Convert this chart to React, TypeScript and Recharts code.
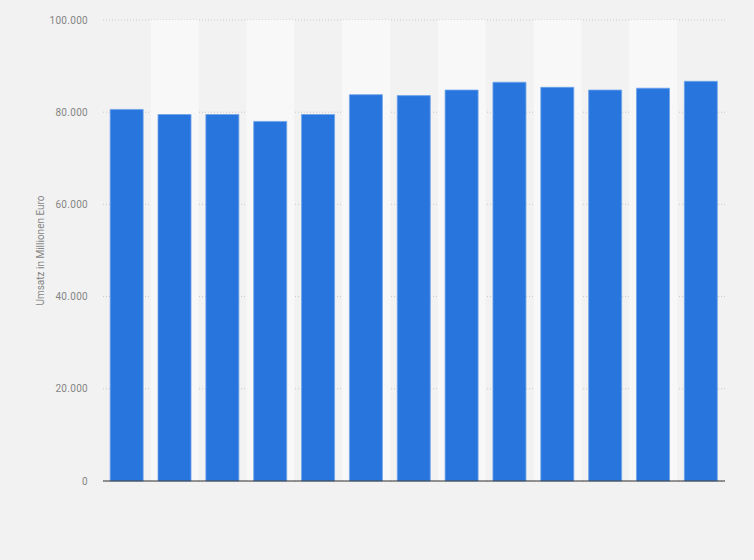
import React from 'react';
import {
  BarChart,
  Bar,
  XAxis,
  YAxis,
  CartesianGrid,
  ReferenceArea,
} from 'recharts';

// one bar per year, no labels shown on the x axis
const categories = [
  '2010', '2011', '2012', '2013', '2014', '2015', '2016',
  '2017', '2018', '2019', '2020', '2021', '2022',
];
const revenue = [
  80600, 79500, 79500, 78000, 79500, 83800, 83600,
  84800, 86500, 85400, 84800, 85200, 86700,
];
const yTicks = [0, 20000, 40000, 60000, 80000, 100000];

const data = categories.map((name, i) => ({ name, value: revenue[i] }));

const formatTick = (v: number) =>
  v.toString().replace(/\B(?=(\d{3})+(?!\d))/g, '.');

export default function App() {
  return (
    <div
      style={{
        position: 'fixed',
        left: 0,
        top: 0,
        width: 754,
        height: 560,
        background: '#f2f2f2',
        fontFamily: 'Roboto, sans-serif',
      }}
    >
      <BarChart
        width={754}
        height={560}
        data={data}
        margin={{ top: 20, right: 29, left: 0, bottom: 49 }}
        barCategoryGap="15%"
      >
        {categories.map((c, i) =>
          i % 2 === 1 ? (
            <ReferenceArea
              key={c}
              x1={c}
              x2={c}
              fill="#f8f8f8"
              fillOpacity={1}
              stroke="none"
            />
          ) : null
        )}
        <CartesianGrid
          vertical={false}
          stroke="#c8c8c8"
          strokeDasharray="1 2"
        />
        <XAxis
          dataKey="name"
          tick={false}
          tickLine={false}
          height={30}
          axisLine={{ stroke: '#333333', strokeWidth: 1 }}
        />
        <YAxis
          width={103}
          domain={[0, 100000]}
          ticks={yTicks}
          tickFormatter={formatTick}
          axisLine={false}
          tickLine={false}
          tickSize={6}
          tickMargin={9}
          tick={{ fill: '#858585', fontSize: 10, letterSpacing: 0.3 }}
          label={{
            value: 'Umsatz in Millionen Euro',
            angle: -90,
            position: 'insideLeft',
            offset: 40,
            style: { textAnchor: 'middle', fill: '#858585', fontSize: 10 },
          }}
        />
        <Bar
          dataKey="value"
          fill="#2876dd"
          stroke="#6fa3ea"
          strokeWidth={0.8}
          isAnimationActive={false}
        />
      </BarChart>
    </div>
  );
}
